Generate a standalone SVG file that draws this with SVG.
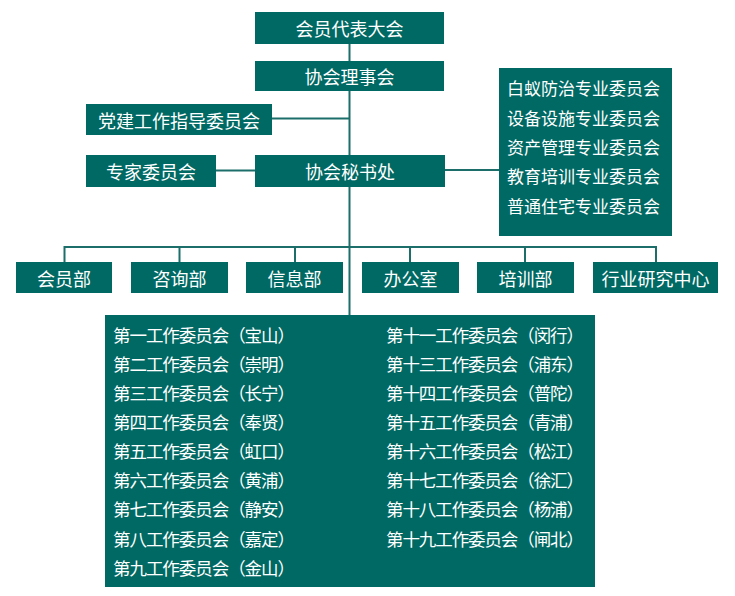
<svg xmlns="http://www.w3.org/2000/svg" width="735" height="596" viewBox="0 0 735 596">
<style>
.box{fill:#006964;}
.t{fill:#ffffff;font-family:"Microsoft YaHei","Noto Sans CJK SC","Noto Sans",sans-serif;font-size:18px;text-anchor:middle;dominant-baseline:central;}
.l{fill:#ffffff;font-family:"Microsoft YaHei","Noto Sans CJK SC","Noto Sans",sans-serif;font-size:17px;dominant-baseline:central;}
.w{fill:#ffffff;font-family:"Microsoft YaHei","Noto Sans CJK SC","Noto Sans",sans-serif;font-size:17.5px;dominant-baseline:central;}
.c{stroke:#1b6e6a;stroke-width:2;fill:none;}
</style>
<rect width="735" height="596" fill="#ffffff"/>
<g id="connectors">
<line class="c" x1="349.5" y1="44" x2="349.5" y2="315"/>
<line class="c" x1="272" y1="118.5" x2="349.5" y2="118.5"/>
<line class="c" x1="216" y1="170.5" x2="255" y2="170.5"/>
<line class="c" x1="445" y1="170" x2="499" y2="170"/>
<polyline class="c" points="64.5,262 64.5,247 656,247 656,262"/>
<line class="c" x1="179.5" y1="247" x2="179.5" y2="262"/>
<line class="c" x1="295" y1="247" x2="295" y2="262"/>
<line class="c" x1="410" y1="247" x2="410" y2="262"/>
<line class="c" x1="525" y1="247" x2="525" y2="262"/>
</g>
<g id="n-congress"><rect class="box" x="255" y="12" width="189" height="32"/><text class="t" x="349.5" y="28">会员代表大会</text></g>
<g id="n-council"><rect class="box" x="255" y="61" width="189" height="30"/><text class="t" x="349.5" y="76">协会理事会</text></g>
<g id="n-party"><rect class="box" x="86" y="104" width="186" height="31"/><text class="t" x="179" y="119.5">党建工作指导委员会</text></g>
<g id="n-experts"><rect class="box" x="86" y="155" width="130" height="32"/><text class="t" x="151" y="171">专家委员会</text></g>
<g id="n-secretariat"><rect class="box" x="255" y="155" width="190" height="32"/><text class="t" x="350" y="171">协会秘书处</text></g>
<g id="n-special">
<rect class="box" x="499" y="68" width="173" height="168"/>
<text class="l" x="507" y="87">白蚁防治专业委员会</text>
<text class="l" x="507" y="117">设备设施专业委员会</text>
<text class="l" x="507" y="146.5">资产管理专业委员会</text>
<text class="l" x="507" y="175.5">教育培训专业委员会</text>
<text class="l" x="507" y="205">普通住宅专业委员会</text>
</g>
<g id="n-member"><rect class="box" x="16" y="262" width="96" height="31"/><text class="t" x="64" y="277.5">会员部</text></g>
<g id="n-consult"><rect class="box" x="131" y="262" width="97" height="31"/><text class="t" x="179.5" y="277.5">咨询部</text></g>
<g id="n-info"><rect class="box" x="246" y="262" width="97" height="31"/><text class="t" x="294.5" y="277.5">信息部</text></g>
<g id="n-office"><rect class="box" x="362" y="262" width="97" height="31"/><text class="t" x="410.5" y="277.5">办公室</text></g>
<g id="n-training"><rect class="box" x="477" y="262" width="97" height="31"/><text class="t" x="525.5" y="277.5">培训部</text></g>
<g id="n-research"><rect class="box" x="593" y="262" width="125" height="31"/><text class="t" x="655.5" y="277.5">行业研究中心</text></g>
<g id="n-working">
<rect class="box" x="105" y="315" width="490" height="272"/>
<text class="w" x="113" y="334" textLength="182" lengthAdjust="spacing">第一工作委员会（宝山）</text>
<text class="w" x="113" y="363" textLength="182" lengthAdjust="spacing">第二工作委员会（崇明）</text>
<text class="w" x="113" y="392" textLength="182" lengthAdjust="spacing">第三工作委员会（长宁）</text>
<text class="w" x="113" y="421" textLength="182" lengthAdjust="spacing">第四工作委员会（奉贤）</text>
<text class="w" x="113" y="450" textLength="182" lengthAdjust="spacing">第五工作委员会（虹口）</text>
<text class="w" x="113" y="479" textLength="182" lengthAdjust="spacing">第六工作委员会（黄浦）</text>
<text class="w" x="113" y="508" textLength="182" lengthAdjust="spacing">第七工作委员会（静安）</text>
<text class="w" x="113" y="538" textLength="182" lengthAdjust="spacing">第八工作委员会（嘉定）</text>
<text class="w" x="113" y="567" textLength="182" lengthAdjust="spacing">第九工作委员会（金山）</text>
<text class="w" x="386" y="334" textLength="198" lengthAdjust="spacing">第十一工作委员会（闵行）</text>
<text class="w" x="386" y="363" textLength="198" lengthAdjust="spacing">第十三工作委员会（浦东）</text>
<text class="w" x="386" y="392" textLength="198" lengthAdjust="spacing">第十四工作委员会（普陀）</text>
<text class="w" x="386" y="421" textLength="198" lengthAdjust="spacing">第十五工作委员会（青浦）</text>
<text class="w" x="386" y="450" textLength="198" lengthAdjust="spacing">第十六工作委员会（松江）</text>
<text class="w" x="386" y="479" textLength="198" lengthAdjust="spacing">第十七工作委员会（徐汇）</text>
<text class="w" x="386" y="508" textLength="198" lengthAdjust="spacing">第十八工作委员会（杨浦）</text>
<text class="w" x="386" y="538" textLength="198" lengthAdjust="spacing">第十九工作委员会（闸北）</text>
</g>
</svg>
